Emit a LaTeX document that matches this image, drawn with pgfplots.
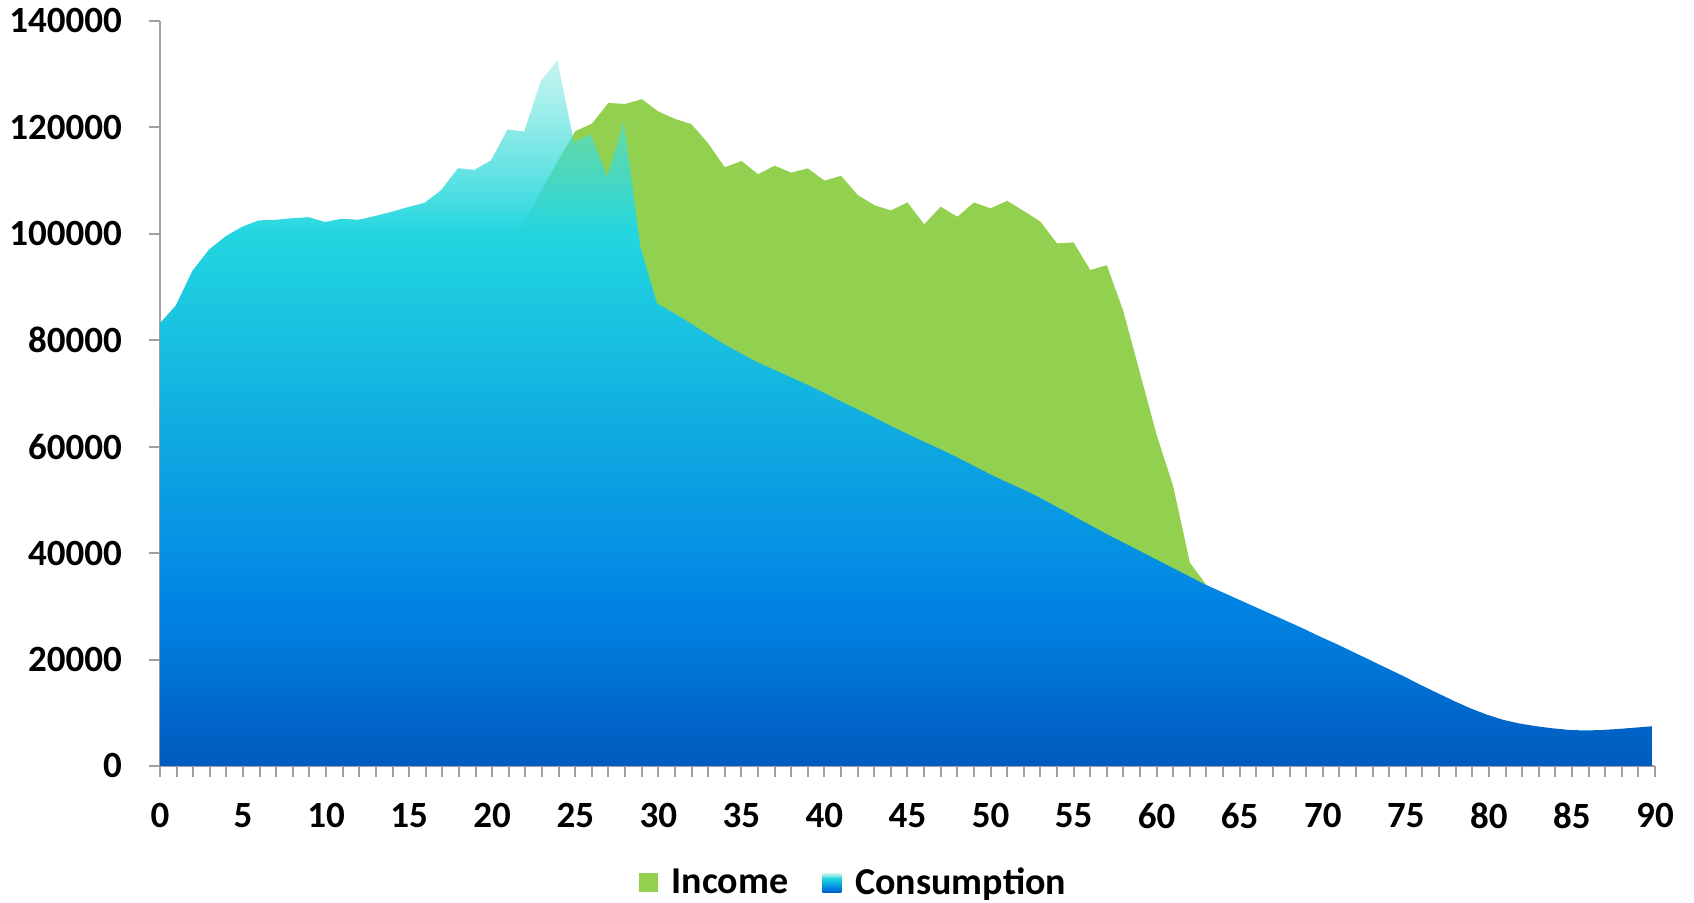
\documentclass[border=0pt]{standalone}
\usepackage{pgfplots}
\pgfplotsset{compat=1.18}
\usepackage{fontspec}
\setmainfont{Carlito}
\usetikzlibrary{fadings}

\definecolor{incgreen}{HTML}{92D050}
\definecolor{axisgray}{HTML}{A0A0A0}
\definecolor{cA}{HTML}{005BBE}
\definecolor{cB}{HTML}{0067CB}
\definecolor{cC}{HTML}{0078D8}
\definecolor{cD}{HTML}{0084E3}
\definecolor{cE}{HTML}{0590E4}
\definecolor{cF}{HTML}{0EA7E0}
\definecolor{cG}{HTML}{18C0E0}
\definecolor{cH}{HTML}{22D6E0}
\definecolor{cI}{HTML}{40DCDA}
\definecolor{cJ}{HTML}{6AE4D8}

% value v sits at 25bp + 50bp*v/132700 (path box = middle 50bp)
\pgfdeclareverticalshading{consshade}{100bp}{%
  color(0bp)=(cA); color(25bp)=(cA); color(28.77bp)=(cB);
  color(32.54bp)=(cC); color(36.68bp)=(cD); color(40.07bp)=(cE);
  color(47.61bp)=(cF); color(55.14bp)=(cG); color(62.68bp)=(cH);
  color(68.7bp)=(cI); color(75bp)=(cJ); color(100bp)=(cJ)}
\pgfdeclareverticalshading{consalpha}{100bp}{%
  color(0bp)=(pgftransparent!0); color(62.68bp)=(pgftransparent!0);
  color(75bp)=(pgftransparent!62); color(100bp)=(pgftransparent!62)}
\pgfdeclarefading{consfade}{\pgfuseshading{consalpha}}

\begin{document}
\begin{tikzpicture}
\useasboundingbox (-80pt,-68.5pt) rectangle (767pt,383pt);
\begin{axis}[
    width=747.5pt, height=372.5pt,
    scale only axis,
    xmin=0, xmax=90,
    ymin=0, ymax=140000,
    axis x line*=bottom,
    axis y line*=left,
    axis line style={axisgray, line width=1pt},
    tick style={axisgray, line width=1pt},
    tick align=outside,
    major tick length=5.5pt,
    minor tick length=5.5pt,
    xtick={0,5,...,90},
    minor xtick={0,1,...,90},
    ytick={0,20000,40000,60000,80000,100000,120000,140000},
    yticklabels={0,20000,40000,60000,80000,100000,120000,140000},
    scaled y ticks=false,
    /pgf/number format/fixed,
    /pgf/number format/1000 sep={},
    /pgf/number format/assume math mode=true,
    xticklabel style={font=\bfseries\fontsize{18.5}{20}\selectfont, yshift=-9.5pt},
    yticklabel style={font=\bfseries\fontsize{18.5}{20}\selectfont, xshift=-10pt},
    legend style={
        at={(0.4645,-0.157)},
        anchor=center,
        draw=none,
        fill=none,
        legend columns=2,
        font=\bfseries\fontsize{19}{21}\selectfont,
        /tikz/every odd column/.append style={column sep=5pt},
        /tikz/every even column/.append style={column sep=15pt},
    },
]

% Income, drawn first, behind
\addplot[
    draw=none,
    fill=incgreen,
    legend image code/.code={\fill[incgreen] (0pt,-4.75pt) rectangle (9.5pt,4.75pt);}
] coordinates {
    (20,0) (21,96500) (22,102500) (23,108300) (24,113900) (25,119300)
    (26,120700) (27,124600) (28,124400) (29,125300) (30,123000)
    (31,121600) (32,120600) (33,117000) (34,112500) (35,113700)
    (36,111200) (37,112800) (38,111500) (39,112300) (40,110000)
    (41,110900) (42,107300) (43,105400) (44,104400) (45,105900)
    (46,101800) (47,105100) (48,103200) (49,105900) (50,104800)
    (51,106200) (52,104300) (53,102300) (54,98200) (55,98400)
    (56,93200) (57,94100) (58,85400) (59,73800) (60,62200)
    (61,52500) (62,38200) (63,34000)
} \closedcycle;
\addlegendentry{Income}

% Consumption: gradient, top part fades so income shows through
\addplot[
    draw=none,
    shade, shading=consshade,
    path fading=consfade, fit fading=true,
    legend image code/.code={\shade[shading=consshade] (0pt,-4.75pt) rectangle (9.5pt,4.75pt);}
] coordinates {
    (0,83100) (1,86600) (2,93100) (3,97100) (4,99600) (5,101400)
    (6,102600) (7,102700) (8,103000) (9,103200) (10,102300)
    (11,102900) (12,102700) (13,103400) (14,104200) (15,105100)
    (16,105900) (17,108300) (18,112400) (19,112100) (20,113900)
    (21,119700) (22,119300) (23,128800) (24,132700) (25,117300)
    (26,118800) (27,110700) (28,121300) (29,97600) (30,87000)
    (31,85200) (32,83300) (33,81300) (34,79400) (35,77700)
    (36,76000) (37,74600) (38,73200) (39,71800) (40,70300)
    (41,68700) (42,67200) (43,65700) (44,64100) (45,62600)
    (46,61100) (47,59700) (48,58200) (49,56600) (50,55000)
    (51,53500) (52,52100) (53,50600) (54,48900) (55,47200)
    (56,45500) (57,43800) (58,42200) (59,40600) (60,39000)
    (61,37400) (62,35800) (63,34200) (64,32800) (65,31400)
    (66,30000) (67,28600) (68,27200) (69,25800) (70,24300)
    (71,22900) (72,21400) (73,19900) (74,18400) (75,16900)
    (76,15300) (77,13800) (78,12300) (79,10900) (80,9700)
    (81,8700) (82,8000) (83,7500) (84,7100) (85,6800)
    (86,6700) (87,6800) (88,7000) (89,7250) (90,7500)
} \closedcycle;
\addlegendentry{Consumption}

\end{axis}
\end{tikzpicture}
\end{document}
